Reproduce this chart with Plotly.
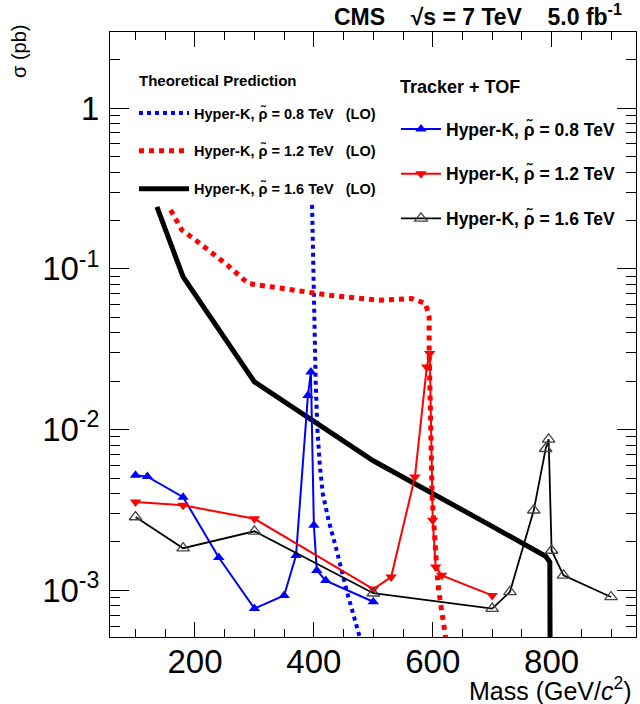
import plotly.graph_objects as go

# ---------------- data ----------------
# Theoretical predictions (LO)
theo08_mass = [397, 399, 401, 403, 406, 410, 415, 425, 437, 455, 478, 486]
theo08_xsec = [0.25, 0.1, 0.04, 0.02, 0.01, 0.006, 0.004, 0.0027, 0.00186, 0.001, 0.0005, 0.0004]

theo12_mass = [159, 178, 201, 251, 290, 350, 425, 509, 565, 588, 594, 594, 596, 599, 607, 610, 622, 626]
theo12_xsec = [0.232, 0.174, 0.151, 0.108, 0.081, 0.075, 0.0686, 0.0638, 0.0653, 0.0608, 0.050, 0.031,
               0.0099, 0.0038, 0.00133, 0.001, 0.0005, 0.0004]

theo16_mass = [136, 180, 300, 500, 700, 790, 797, 798]
theo16_xsec = [0.243, 0.089, 0.0198, 0.0064, 0.0025, 0.00163, 0.0015, 0.0001]

# Tracker + TOF observed limits
trk08_mass = [100, 120, 180, 240, 300, 350, 370, 390, 395, 400, 405, 420, 500]
trk08_xsec = [0.0052, 0.0051, 0.0038, 0.0016, 0.00077, 0.00093, 0.00165, 0.0163, 0.0228, 0.00254,
              0.00133, 0.00115, 0.00085]

trk12_mass = [100, 180, 300, 500, 530, 570, 590, 595, 600, 605, 615, 700]
trk12_xsec = [0.00355, 0.00338, 0.00279, 0.00102, 0.00121, 0.00507, 0.0245, 0.0297, 0.00273, 0.0014,
              0.00124, 0.00093]

trk16_mass = [100, 180, 300, 500, 700, 730, 770, 790, 795, 800, 820, 900]
trk16_xsec = [0.00286, 0.00183, 0.00233, 0.00096, 0.00077, 0.00098, 0.00315, 0.0076, 0.0087, 0.00177,
              0.00124, 0.00091]

y_tickvals = [1e-3, 1e-2, 1e-1, 1]
y_ticktext = ["10<sup>-3</sup>", "10<sup>-2</sup>", "10<sup>-1</sup>", "1"]
x_tickvals = [200, 400, 600, 800]
x_ticktext = ["200", "400", "600", "800"]

# ---------------- layout helpers ----------------
W, H = 640, 704
L, R, T, B = 110, 4, 32, 67
PW, PH = W - L - R, H - T - B


def px_x(p):
    return (p - L) / PW


def px_y(p):
    return (H - B - p) / PH


FONT = "Liberation Sans, Arial, sans-serif"
RHO = "ρ\u0303"
SP = "\u00a0"

fig = go.Figure()

# theory curves
fig.add_trace(go.Scatter(x=theo08_mass, y=theo08_xsec, mode="lines",
                         line=dict(color="#0000FF", width=4, dash="dot"),
                         name=f"<b>Hyper-K, {RHO} = 0.8 TeV{SP*3}(LO)</b>",
                         legend="legend", legendgroup="t1"))
fig.add_trace(go.Scatter(x=theo12_mass, y=theo12_xsec, mode="lines",
                         line=dict(color="#FF0000", width=5, dash="dot"),
                         name=f"<b>Hyper-K, {RHO} = 1.2 TeV{SP*3}(LO)</b>",
                         legend="legend", legendgroup="t2"))
fig.add_trace(go.Scatter(x=theo16_mass, y=theo16_xsec, mode="lines",
                         line=dict(color="#000000", width=5),
                         name=f"<b>Hyper-K, {RHO} = 1.6 TeV{SP*3}(LO)</b>",
                         legend="legend", legendgroup="t3"))

# tracker + TOF
fig.add_trace(go.Scatter(x=trk08_mass, y=trk08_xsec, mode="lines+markers",
                         line=dict(color="#0000FF", width=2),
                         marker=dict(symbol="triangle-up", size=10, color="#0000FF"),
                         name=f"<b>Hyper-K, {RHO} = 0.8 TeV</b>",
                         legend="legend2", legendgroup="k1"))
fig.add_trace(go.Scatter(x=trk12_mass, y=trk12_xsec, mode="lines+markers",
                         line=dict(color="#FF0000", width=2),
                         marker=dict(symbol="triangle-down", size=10, color="#FF0000"),
                         name=f"<b>Hyper-K, {RHO} = 1.2 TeV</b>",
                         legend="legend2", legendgroup="k2"))
fig.add_trace(go.Scatter(x=trk16_mass, y=trk16_xsec, mode="lines+markers",
                         line=dict(color="#000000", width=1.8),
                         marker=dict(symbol="triangle-up-open", size=11, color="#444444",
                                     line=dict(width=1.3)),
                         name=f"<b>Hyper-K, {RHO} = 1.6 TeV</b>",
                         legend="legend2", legendgroup="k3"))

minor_y = []
for dec in [1e-4, 1e-3, 1e-2, 1e-1, 1]:
    for k in range(2, 10):
        minor_y.append(k * dec)

fig.update_layout(
    width=W, height=H,
    margin=dict(l=L, r=R, t=T, b=B),
    paper_bgcolor="white", plot_bgcolor="white",
    font=dict(family=FONT, color="black"),
    xaxis=dict(range=[57, 942], showline=True, linecolor="black", linewidth=1, mirror="allticks",
               ticks="inside", ticklen=15, tickwidth=1, tickcolor="black",
               tickvals=x_tickvals, ticktext=x_ticktext, tickfont=dict(size=33, family=FONT),
               ticklabelstandoff=-5,
               minor=dict(ticks="inside", ticklen=8, tickcolor="black", dtick=50, tick0=0,
                          showgrid=False),
               showgrid=False, zeroline=False),
    yaxis=dict(type="log", range=[-3.29, 0.473], showline=True, linecolor="black", linewidth=1,
               mirror="allticks", ticks="inside", ticklen=19, tickwidth=1, tickcolor="black",
               tickvals=y_tickvals, ticktext=y_ticktext, tickfont=dict(size=33, family=FONT),
               ticklabelstandoff=3,
               minor=dict(ticks="inside", ticklen=10, tickcolor="black", tickvals=minor_y,
                          showgrid=False),
               showgrid=False, zeroline=False),
    legend=dict(x=px_x(134), y=px_y(97), xanchor="left", yanchor="top",
                bgcolor="rgba(0,0,0,0)", font=dict(size=14.5, family=FONT),
                tracegroupgap=16, itemwidth=50),
    legend2=dict(x=px_x(396), y=px_y(111), xanchor="left", yanchor="top",
                 bgcolor="rgba(0,0,0,0)", font=dict(size=17.5, family=FONT),
                 tracegroupgap=19, itemwidth=40),
    annotations=[
        dict(text=f"<b>CMS{SP*4}√s = 7 TeV{SP*4}5.0 fb<sup>-1</sup></b>", x=px_x(624), y=px_y(15),
             xref="paper", yref="paper", xanchor="right", yanchor="middle", showarrow=False,
             font=dict(size=23, family=FONT)),
        dict(text="<b>Theoretical Prediction</b>", x=px_x(137), y=px_y(80),
             xref="paper", yref="paper", xanchor="left", yanchor="middle", showarrow=False,
             font=dict(size=15, family=FONT)),
        dict(text="<b>Tracker + TOF</b>", x=px_x(398), y=px_y(87),
             xref="paper", yref="paper", xanchor="left", yanchor="middle", showarrow=False,
             font=dict(size=18, family=FONT)),
        dict(text="σ (pb)", x=px_x(19), y=px_y(52), xref="paper", yref="paper",
             xanchor="center", yanchor="middle", textangle=-90, showarrow=False,
             font=dict(size=20, family=FONT)),
        dict(text="Mass (GeV/<i>c</i><sup>2</sup>)", x=px_x(634), y=px_y(689),
             xref="paper", yref="paper", xanchor="right", yanchor="middle", showarrow=False,
             font=dict(size=25, family=FONT)),
    ],
)

fig.write_html("out.html")
